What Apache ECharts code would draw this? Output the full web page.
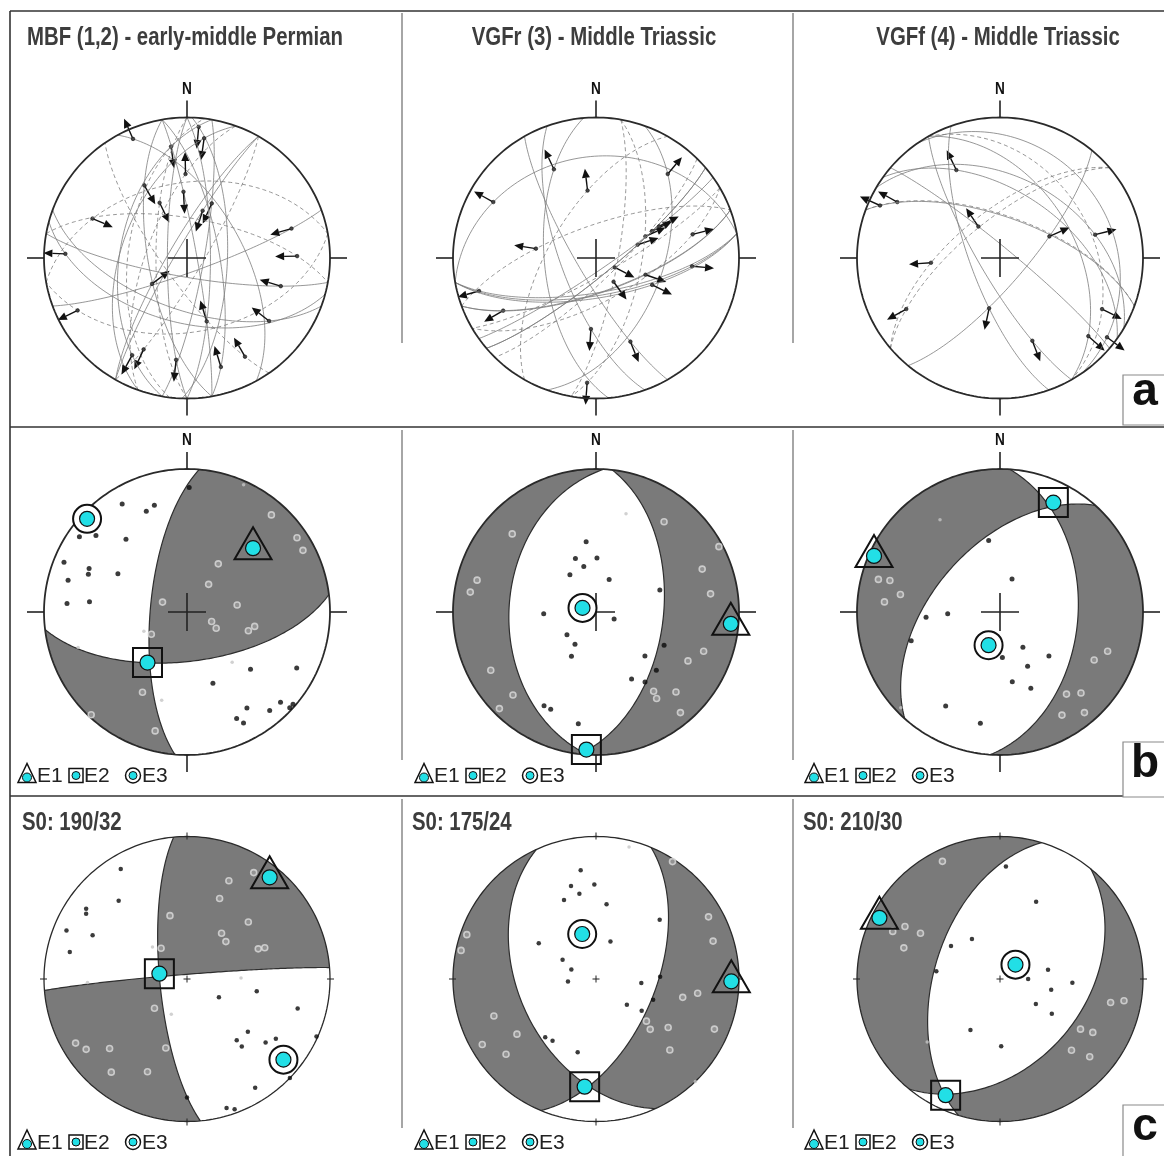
<!DOCTYPE html>
<html><head><meta charset="utf-8"><title>Paleostress stereonets</title>
<script src="https://cdn.jsdelivr.net/npm/echarts@6/dist/echarts.min.js"></script>
<style>html,body{margin:0;padding:0;background:#fff;}#chart{width:1164px;height:1156px;}</style>
</head><body><div id="chart"></div>
<script>
// ================= DATA =================
const titlesA = ['MBF (1,2) - early-middle Permian', 'VGFr (3) - Middle Triassic', 'VGFf (4) - Middle Triassic'];
const beddingC = ['S0: 190/32', 'S0: 175/24', 'S0: 210/30'];
const northLabel = 'N';
const legendNames = ['E1', 'E2', 'E3'];
const panelLetters = ['a', 'b', 'c'];

// Row a: fault-slip data [slip trend, slip plunge, plane dip direction, sense (+1 arrow along trend, -1 opposite)]
const faultsMBF = [
  [336,8,61,1],[352,21,277,-1],[5,7,92,-1],[8,15,290,-1],[359,40,290,1],[357,51,80,-1],
  [330,40,260,-1],[334,54,270,-1],[24,55,100,-1],[18,61,300,-1],[293,29,350,-1],[272,16,195,1],
  [74,25,160,-1],[89,24,10,-1],[233,65,300,-1],[107,32,190,-1],[244,16,170,1],[163,51,90,-1],
  [128,28,200,-1],[150,20,235,-1],[163,20,80,-1],[186,28,270,1],[205,29,120,1],[209,22,280,1]
];
const faultsVGFr = [
  [335,31,265,1],[353,50,300,1],[299,19,350,1],[40,23,110,1],[279,55,340,1],[254,16,170,1],
  [240,26,160,1],[76,31,150,1],[95,33,170,1],[72,65,140,1],[66,59,135,1],[64,54,140,1],
  [63,49,145,1],[117,78,150,1],[109,60,160,1],[116,54,170,1],[144,73,100,1],[184,48,250,1],
  [158,36,240,1],[184,12,100,1]
];
const faultsVGFf = [
  [334,31,35,1],[299,19,20,1],[294,9,20,1],[326,68,40,1],[266,50,320,1],[66,59,130,1],
  [76,32,30,1],[241,26,320,1],[192,60,250,1],[159,37,240,1],[117,21,60,1],[132,18,60,1],[127,7,55,1]
];

// Rows b, c: stress axes E1,E2,E3 [trend, plunge]; data points [trend, plunge]
const axesB1 = [[46,36],[218,53],[313,5]];
const solidB1 = [[1,14],[329,13],[338,25],[343,23],[305,9],[310,18],[320,34],[292,8],[294,26],[291,27],[299,44],[285,15],[274,17],[276,32],[132,40],[117,15],[160,46],[148,22],[134,10],[131,2],[140,11],[133,2],[155,19],[153,14]];
const ringB1 = [[41,11],[56,8],[62,9],[33,57],[38,70],[292,75],[82,61],[111,75],[119,71],[107,53],[102,50],[238,66],[209,36],[223,2],[195,15]];
const faintB1 = [[24,3],[246,63],[252,21],[138,51],[196,36]];

const axesB2 = [[95,6],[184,4],[287,82]];
const solidB2 = [[352,49],[339,57],[1,59],[345,63],[325,64],[22,70],[71,51],[268,60],[111,79],[232,69],[213,68],[209,61],[116,46],[132,52],[134,41],[152,46],[145,40],[209,26],[205,26],[189,22]];
const ringB2 = [[313,21],[285,15],[279,12],[37,22],[62,3],[68,21],[81,20],[110,21],[118,28],[241,17],[225,19],[225,5],[144,32],[145,27],[135,22],[140,9]];
const faintB2 = [[17,29]];

const axesB3 = [[294,4],[26,16],[199,70]];
const solidB3 = [[351,48],[20,70],[266,47],[268,60],[252,35],[147,66],[132,52],[177,64],[153,55],[170,49],[158,42],[210,25],[190,22]];
const ringB3 = [[285,13],[286,21],[280,30],[275,20],[117,27],[110,21],[141,27],[135,21],[149,17],[140,9]];
const faintB3 = [[327,24],[226,4]];

const axesC1 = [[39,9],[281,74],[130,13]];
const solidC1 = [[329,11],[319,28],[305,15],[303,17],[292,10],[295,28],[283,17],[120,69],[100,49],[105,21],[131,43],[141,44],[141,39],[129,30],[124,26],[114,1],[134,0],[148,11],[180,18],[163,6],[160,3]];
const ringC1 = [[23,26],[32,13],[22,39],[345,52],[47,41],[37,57],[46,59],[67,45],[68,41],[320,67],[228,65],[240,11],[235,15],[228,28],[197,48],[219,17],[203,30]];
const faintC1 = [[313,63],[89,59],[268,31],[204,68]];

const axesC2 = [[91,6],[186,25],[343,63]];
const solidC2 = [[352,24],[345,33],[359,34],[349,39],[338,40],[8,46],[47,39],[302,51],[21,67],[300,68],[291,75],[265,74],[88,53],[95,64],[110,55],[130,67],[125,58],[221,45],[215,46],[194,46]];
const ringC2 = [[289,5],[282,4],[33,2],[61,11],[72,15],[102,38],[98,29],[130,52],[133,47],[124,39],[113,11],[134,29],[250,25],[235,33],[240,9],[230,19]];
const faintC2 = [[14,5],[136,0]];

const axesC3 = [[297,6],[205,11],[47,78]];
const solidC3 = [[3,22],[25,40],[325,62],[304,56],[277,53],[79,62],[90,74],[93,48],[102,60],[125,65],[124,54],[210,56],[179,51]];
const ringC3 = [[334,9],[294,19],[299,25],[300,36],[288,30],[102,22],[100,13],[122,34],[120,26],[135,30],[131,18]];
const faintC3 = [[229,33]];

// ================= LAYOUT / STYLE =================
const COLX = [187, 596, 1000];
const ROWY = [258, 612, 979];
const RX = 143;
const RY = [140.5, 143, 142.5];
const CYAN = '#22dfe6';
const GREY = '#7a7a7a';
const SANS = "'Liberation Sans',Arial,sans-serif";

// ================= GEOMETRY (lower-hemisphere equal-area) =================
const D2R = Math.PI / 180;
const vec = (t, p) => { const a = t * D2R, b = p * D2R; return [Math.cos(b) * Math.cos(a), Math.cos(b) * Math.sin(a), Math.sin(b)]; };
const dot = (a, b) => a[0] * b[0] + a[1] * b[1] + a[2] * b[2];
const add = (a, b) => [a[0] + b[0], a[1] + b[1], a[2] + b[2]];
const sc = (a, k) => [a[0] * k, a[1] * k, a[2] * k];
const cross = (a, b) => [a[1] * b[2] - a[2] * b[1], a[2] * b[0] - a[0] * b[2], a[0] * b[1] - a[1] * b[0]];
const unit = a => sc(a, 1 / Math.hypot(a[0], a[1], a[2]));
function projVec(v) { let n = v[0], e = v[1], d = v[2]; if (d < 0) { n = -n; e = -e; d = -d; } const k = 1 / Math.sqrt(1 + d); return [e * k, n * k]; }
const proj = (t, p) => projVec(vec(t, p));
function slerp(a, b, n) {
  const om = Math.acos(Math.max(-1, Math.min(1, dot(a, b)))); const so = Math.sin(om); const out = [];
  for (let i = 0; i <= n; i++) { const t = i / n; if (so < 1e-9) { out.push(a); continue; } out.push(add(sc(a, Math.sin((1 - t) * om) / so), sc(b, Math.sin(t * om) / so))); }
  return out;
}
function halfCircle(u, w, n) { const out = []; for (let i = 0; i <= n; i++) { const a = Math.PI * i / n; out.push(add(sc(u, Math.cos(a)), sc(w, Math.sin(a)))); } return out; }

function frameChildren(api, big) {
  const c = api.coord([0, 0]), N = api.coord([0, 1]), S = api.coord([0, -1]), W = api.coord([-1, 0]), E = api.coord([1, 0]);
  const prim = []; for (let i = 0; i <= 240; i++) { const a = i / 240 * 2 * Math.PI; prim.push(api.coord([Math.sin(a), Math.cos(a)])); }
  const ch = [{ type: 'polyline', shape: { points: prim }, style: { fill: 'none', stroke: '#2a2a2a', lineWidth: big ? 1.8 : 1.3 } }];
  const T = big ? 17 : 4, X = big ? 19 : 3.5, lw = big ? 1.6 : 1;
  const L = (x1, y1, x2, y2) => ({ type: 'line', shape: { x1, y1, x2, y2 }, style: { stroke: '#222', lineWidth: lw } });
  if (big) {
    ch.push(L(N[0], N[1], N[0], N[1] - T), L(S[0], S[1], S[0], S[1] + T), L(W[0], W[1], W[0] - T, W[1]), L(E[0], E[1], E[0] + T, E[1]));
  } else {
    ch.push(L(N[0], N[1] + 3, N[0], N[1] - T), L(S[0], S[1] - 3, S[0], S[1] + T), L(W[0] + 3, W[1], W[0] - T, W[1]), L(E[0] - 3, E[1], E[0] + T, E[1]));
  }
  ch.push(L(c[0] - X, c[1], c[0] + X, c[1]), L(c[0], c[1] - X, c[0], c[1] + X));
  return ch;
}

function faultItem(params, api) {
  const t = api.value(0), p = api.value(1), dd = api.value(2), s = api.value(3);
  const diff = ((t - dd) % 360 + 540) % 360 - 180;
  let dip = Math.atan(Math.tan(p * D2R) / Math.cos(diff * D2R)) / D2R;
  if (!(dip > 0) || dip > 88) dip = 88;
  const pts = halfCircle(vec(dd - 90, 0), vec(dd, dip), 90).map(v => api.coord(projVec(v)));
  const P = api.coord(proj(t, p));
  const az = (s > 0 ? t : t + 180) * D2R; const ux = Math.sin(az), uy = -Math.cos(az);
  const Ln = 22, H = 9, Wd = 4;
  const tip = [P[0] + ux * Ln, P[1] + uy * Ln], base = [tip[0] - ux * H, tip[1] - uy * H];
  const dashed = params.dataIndex % 3 === 1;
  return { type: 'group', children: [
    { type: 'polyline', shape: { points: pts }, style: { stroke: '#7c7c7c', lineWidth: 0.8, fill: 'none', lineDash: dashed ? [4, 3] : null } },
    { type: 'line', shape: { x1: P[0], y1: P[1], x2: base[0], y2: base[1] }, style: { stroke: '#111', lineWidth: 1.4 } },
    { type: 'polygon', shape: { points: [tip, [base[0] - uy * Wd, base[1] + ux * Wd], [base[0] + uy * Wd, base[1] - ux * Wd]] }, style: { fill: '#111' } },
    { type: 'circle', shape: { cx: P[0], cy: P[1], r: 1.8 }, style: { fill: '#444', stroke: '#111', lineWidth: 0.6 } }
  ] };
}

function dihedraItem(axes, big) {
  return function (params, api) {
    const e1 = vec(axes[0][0], axes[0][1]);
    let e3 = vec(axes[2][0], axes[2][1]); e3 = unit(add(e3, sc(e1, -dot(e1, e3))));
    const n1 = unit(add(e1, e3)), n2 = unit(add(e1, sc(e3, -1)));
    const down = [0, 0, 1];
    const toPx = v => api.coord(projVec(v));
    const ch = [];
    const prim = []; for (let i = 0; i <= 240; i++) { const a = i / 240 * 2 * Math.PI; prim.push(api.coord([Math.sin(a), Math.cos(a)])); }
    ch.push({ type: 'polygon', shape: { points: prim }, style: { fill: '#ffffff' } });
    let V12 = unit(cross(n1, n2)); if (V12[2] < 0) V12 = sc(V12, -1);
    for (const sg of [1, -1]) {
      let V1 = unit(cross(n1, down)); if (sg * dot(V1, n2) < 0) V1 = sc(V1, -1);
      let V2 = unit(cross(n2, down)); if (sg * dot(V2, n1) < 0) V2 = sc(V2, -1);
      const vs = [].concat(slerp(V12, V1, 80), slerp(V1, V2, 120), slerp(V2, V12, 80));
      ch.push({ type: 'polygon', shape: { points: vs.map(toPx) }, style: { fill: GREY } });
    }
    for (const n of [n1, n2]) {
      const u = unit(cross(n, down)); let w = cross(n, u); if (w[2] < 0) w = sc(w, -1);
      ch.push({ type: 'polyline', shape: { points: halfCircle(u, w, 120).map(toPx) }, style: { fill: 'none', stroke: '#2e2e2e', lineWidth: 1.2 } });
    }
    return { type: 'group', children: ch.concat(frameChildren(api, big)) };
  };
}

function markerItem(params, api) {
  const i = params.dataIndex; const P = api.coord(proj(api.value(0), api.value(1)));
  const x = P[0], y = P[1]; const ch = [];
  if (i === 0) ch.push({ type: 'polygon', shape: { points: [[x, y - 21], [x - 18.5, y + 11], [x + 18.5, y + 11]] }, style: { fill: 'none', stroke: '#111', lineWidth: 2 } });
  else if (i === 1) ch.push({ type: 'rect', shape: { x: x - 14.5, y: y - 14.5, width: 29, height: 29 }, style: { fill: 'none', stroke: '#111', lineWidth: 2 } });
  else ch.push({ type: 'circle', shape: { cx: x, cy: y, r: 14 }, style: { fill: '#fff', stroke: '#111', lineWidth: 2 } });
  ch.push({ type: 'circle', shape: { cx: x, cy: y, r: 7.5 }, style: { fill: CYAN, stroke: '#111', lineWidth: 1.2 } });
  return { type: 'group', children: ch };
}

// ================= BUILD OPTION =================
const grids = [], xAxes = [], yAxes = [], series = [];
for (let r = 0; r < 3; r++) for (let c = 0; c < 3; c++) {
  grids.push({ left: COLX[c] - RX, top: ROWY[r] - RY[r], width: 2 * RX, height: 2 * RY[r] });
  xAxes.push({ type: 'value', min: -1, max: 1, show: false, gridIndex: r * 3 + c });
  yAxes.push({ type: 'value', min: -1, max: 1, show: false, gridIndex: r * 3 + c });
}
const faultSets = [faultsMBF, faultsVGFr, faultsVGFf];
faultSets.forEach((f, c) => {
  series.push({ type: 'custom', xAxisIndex: c, yAxisIndex: c, data: f, z: 2, silent: true, clip: false, renderItem: faultItem });
  series.push({ type: 'custom', xAxisIndex: c, yAxisIndex: c, data: [[0, 0]], z: 3, silent: true, clip: false,
    renderItem: (p, api) => ({ type: 'group', children: frameChildren(api, true) }) });
});
const lowerSets = [
  [axesB1, solidB1, ringB1, faintB1], [axesB2, solidB2, ringB2, faintB2], [axesB3, solidB3, ringB3, faintB3],
  [axesC1, solidC1, ringC1, faintC1], [axesC2, solidC2, ringC2, faintC2], [axesC3, solidC3, ringC3, faintC3]
];
lowerSets.forEach((set, k) => {
  const g = 3 + k; const big = k < 3;
  const [axes, solid, ring, faint] = set;
  series.push({ type: 'custom', xAxisIndex: g, yAxisIndex: g, data: [[0, 0]], z: 1, silent: true, clip: false, renderItem: dihedraItem(axes, big) });
  series.push({ type: 'scatter', xAxisIndex: g, yAxisIndex: g, data: faint.map(a => proj(a[0], a[1])), symbol: 'circle', symbolSize: 3.5, itemStyle: { color: '#c6c6c6' }, z: 3, silent: true });
  series.push({ type: 'scatter', xAxisIndex: g, yAxisIndex: g, data: ring.map(a => proj(a[0], a[1])), symbol: 'circle', symbolSize: 6, itemStyle: { color: '#9a9a9a', borderColor: '#dcdcdc', borderWidth: 1.6 }, z: 4, silent: true });
  series.push({ type: 'scatter', xAxisIndex: g, yAxisIndex: g, data: solid.map(a => proj(a[0], a[1])), symbol: 'circle', symbolSize: big ? 5 : 4.5, itemStyle: { color: '#0a0a0a' }, z: 5, silent: true });
  series.push({ type: 'custom', xAxisIndex: g, yAxisIndex: g, data: axes, z: 6, silent: true, clip: false, renderItem: markerItem });
});

// ================= DECORATION (frames, text) =================
const gfx = [];
const gLine = (x1, y1, x2, y2, stroke, lw) => gfx.push({ type: 'line', z: 50, shape: { x1, y1, x2, y2 }, style: { stroke, lineWidth: lw } });
const gText = (x, y, text, font, fill, align, sx) => gfx.push({ type: 'text', z: 60, x, y, scaleX: sx || 1, style: { text, font, fill, align: align, textAlign: align, verticalAlign: 'middle', textVerticalAlign: 'middle' } });
gLine(10, 11, 1164, 11, '#333', 1.6);
gLine(10, 11, 10, 1156, '#333', 1.6);
gLine(10, 427, 1164, 427, '#333', 1.6);
gLine(10, 796, 1164, 796, '#333', 1.6);
[402, 793].forEach(x => { gLine(x, 13, x, 343, '#a6a6a6', 2); gLine(x, 430, x, 760, '#a6a6a6', 2); gLine(x, 799, x, 1128, '#a6a6a6', 2); });
titlesA.forEach((t, c) => gText(COLX[c] - 2, 38, t, 'bold 25px ' + SANS, '#3d3d3d', 'center', 0.815));
COLX.forEach(x => { gText(x, 89.5, northLabel, 'bold 16px ' + SANS, '#111', 'center', 0.85); gText(x, 441, northLabel, 'bold 16px ' + SANS, '#111', 'center', 0.85); });
const s0x = [22, 412, 803];
beddingC.forEach((t, c) => gText(s0x[c], 823, t, 'bold 25px ' + SANS, '#3d3d3d', 'left', 0.815));
const legX = [18, 415, 805];
[775.5, 1142].forEach(yc => legX.forEach(x0 => {
  gfx.push({ type: 'polygon', z: 60, shape: { points: [[x0 + 9, yc - 12], [x0, yc + 7], [x0 + 18, yc + 7]] }, style: { fill: 'none', stroke: '#111', lineWidth: 1.5 } });
  gfx.push({ type: 'circle', z: 61, shape: { cx: x0 + 9, cy: yc + 2, r: 4.5 }, style: { fill: CYAN, stroke: '#111', lineWidth: 1 } });
  gText(x0 + 19, yc + 1, legendNames[0], '21px ' + SANS, '#222', 'left');
  gfx.push({ type: 'rect', z: 60, shape: { x: x0 + 51, y: yc - 7, width: 14, height: 14 }, style: { fill: 'none', stroke: '#111', lineWidth: 1.5 } });
  gfx.push({ type: 'circle', z: 61, shape: { cx: x0 + 58, cy: yc, r: 4 }, style: { fill: CYAN, stroke: '#111', lineWidth: 1 } });
  gText(x0 + 66, yc + 1, legendNames[1], '21px ' + SANS, '#222', 'left');
  gfx.push({ type: 'circle', z: 60, shape: { cx: x0 + 115, cy: yc, r: 7.5 }, style: { fill: '#fff', stroke: '#111', lineWidth: 1.5 } });
  gfx.push({ type: 'circle', z: 61, shape: { cx: x0 + 115, cy: yc, r: 4 }, style: { fill: CYAN, stroke: '#111', lineWidth: 1 } });
  gText(x0 + 124, yc + 1, legendNames[2], '21px ' + SANS, '#222', 'left');
}));
const boxes = [[375, 50, 392], [742, 55, 764], [1105, 55, 1127]];
boxes.forEach((b, i) => {
  gfx.push({ type: 'rect', z: 70, shape: { x: 1123, y: b[0], width: 60, height: b[1] }, style: { fill: '#fff', stroke: '#8a8a8a', lineWidth: 1.2 } });
  gfx.push({ type: 'text', z: 71, x: 1145, y: b[2], style: { text: panelLetters[i], font: 'bold 46px ' + SANS, fill: '#111', align: 'center', textAlign: 'center', verticalAlign: 'middle', textVerticalAlign: 'middle' } });
});

const chart = echarts.init(document.getElementById('chart'), null, { renderer: 'canvas' });
chart.setOption({
  animation: false,
  backgroundColor: '#ffffff',
  grid: grids, xAxis: xAxes, yAxis: yAxes,
  series: series,
  graphic: { elements: gfx }
});
</script>
</body></html>
